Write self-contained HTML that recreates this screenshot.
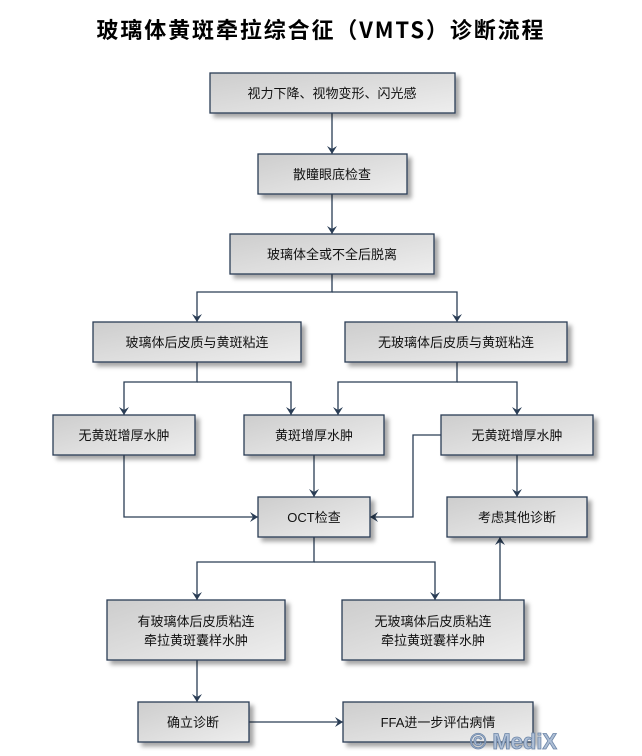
<!DOCTYPE html>
<html><head><meta charset="utf-8"><style>
body{margin:0;background:#fff;width:642px;height:751px;overflow:hidden}
text{font-family:"Liberation Sans","Noto Sans CJK SC",sans-serif}
</style></head><body>
<svg width="642" height="751" viewBox="0 0 642 751" xmlns="http://www.w3.org/2000/svg">
<defs>
<linearGradient id="g" x1="0" y1="0" x2="1" y2="1">
<stop offset="0" stop-color="#cdcdcd"/><stop offset="1" stop-color="#eeeeee"/>
</linearGradient>
<filter id="s" x="-10%" y="-20%" width="130%" height="160%"><feDropShadow dx="4" dy="4" stdDeviation="2" flood-color="#000" flood-opacity="0.35"/></filter>
<marker id="a" markerWidth="8" markerHeight="12" refX="8" refY="6" orient="auto" markerUnits="userSpaceOnUse"><path d="M0,1 L8,6 L0,11 L3,6 Z" fill="#2a3d55"/></marker>
</defs>
<text x="320" y="38" text-anchor="middle" font-size="22" font-weight="bold" textLength="447" fill="#000" style='font-family:"Noto Sans CJK SC",sans-serif'>玻璃体黄斑牵拉综合征（VMTS）诊断流程</text>
<g stroke="#2a3d55" stroke-width="1.3" fill="none" marker-end="url(#a)">
<path d="M332 113V154"/>
<path d="M332 194V234"/>
<path d="M332 274V292H197V322"/>
<path d="M332 292H457V322"/>
<path d="M197 362V382H124V415"/>
<path d="M197 382H291V415"/>
<path d="M457 362V382H338V415"/>
<path d="M457 382H517V415"/>
<path d="M124 455V517H258"/>
<path d="M314 455V497"/>
<path d="M441 435H413V517H370"/>
<path d="M517 455V497"/>
<path d="M314 537V562H197V600"/>
<path d="M314 562H435V600"/>
<path d="M500 600V537"/>
<path d="M197 660V702"/>
<path d="M249 722H343"/>
</g>
<g stroke="#2a3d55" stroke-width="1.3" fill="url(#g)" filter="url(#s)">
<rect x="210" y="73" width="245" height="40"/>
<rect x="258" y="154" width="149" height="40"/>
<rect x="230" y="234" width="204" height="40"/>
<rect x="93" y="322" width="208" height="40"/>
<rect x="345" y="322" width="222" height="40"/>
<rect x="53" y="415" width="142" height="40"/>
<rect x="244" y="415" width="140" height="40"/>
<rect x="441" y="415" width="152" height="40"/>
<rect x="258" y="497" width="112" height="40"/>
<rect x="447" y="497" width="140" height="40"/>
<rect x="107" y="600" width="178" height="60"/>
<rect x="342" y="600" width="182" height="60"/>
<rect x="138" y="702" width="111" height="40"/>
<rect x="343" y="702" width="190" height="40"/>
</g>
<g font-size="13" fill="#111" text-anchor="middle">
<text x="332" y="98">视力下降、视物变形、闪光感</text>
<text x="332" y="179">散瞳眼底检查</text>
<text x="332" y="259">玻璃体全或不全后脱离</text>
<text x="197" y="347">玻璃体后皮质与黄斑粘连</text>
<text x="456" y="347">无玻璃体后皮质与黄斑粘连</text>
<text x="124" y="440">无黄斑增厚水肿</text>
<text x="314" y="440">黄斑增厚水肿</text>
<text x="517" y="440">无黄斑增厚水肿</text>
<text x="314" y="522">OCT检查</text>
<text x="517" y="522">考虑其他诊断</text>
<text x="196" y="626">有玻璃体后皮质粘连</text>
<text x="196" y="645">牵拉黄斑囊样水肿</text>
<text x="433" y="626">无玻璃体后皮质粘连</text>
<text x="433" y="645">牵拉黄斑囊样水肿</text>
<text x="193" y="727">确立诊断</text>
<text x="438" y="727">FFA进一步评估病情</text>
</g>
<text x="470" y="749" font-size="22" font-weight="bold" fill="#aebfd6" stroke="#6d86a8" stroke-width="0.8">© MediX</text>
</svg>
</body></html>
